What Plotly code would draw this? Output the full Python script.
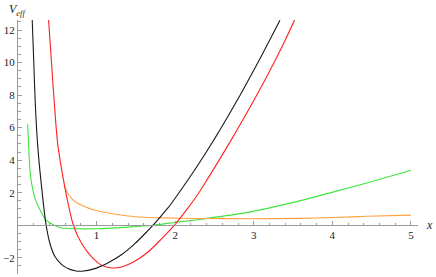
import plotly.graph_objects as go

# ---- data ----
black_x = [0.181, 0.199, 0.219, 0.249, 0.291, 0.358, 0.409, 0.472, 0.557, 0.642, 0.725, 0.81, 0.978, 1.148, 1.316, 1.484, 1.654, 1.719, 1.908, 1.949, 2.203, 2.329, 2.456, 2.582, 2.709, 2.835, 2.962, 3.089, 3.215, 3.333]
black_y = [12.62, 10.26, 7.59, 5.0, 2.77, 0.0, -1.17, -1.94, -2.42, -2.68, -2.80, -2.83, -2.67, -2.31, -1.82, -1.15, -0.33, 0.0, 1.06, 1.32, 3.07, 3.99, 4.96, 5.96, 7.0, 8.07, 9.19, 10.33, 11.49, 12.6]

red_x = [0.389, 0.443, 0.506, 0.591, 0.642, 0.705, 0.81, 0.937, 1.063, 1.19, 1.316, 1.485, 1.654, 1.823, 1.991, 2.161, 2.287, 2.413, 2.667, 2.92, 3.173, 3.383, 3.519]
red_y = [12.62, 8.82, 4.97, 2.46, 1.23, 0.0, -1.13, -1.95, -2.46, -2.63, -2.57, -2.22, -1.65, -0.86, 0.0, 1.05, 1.89, 2.85, 4.86, 6.97, 9.2, 11.2, 12.62]

green_x = [0.123, 0.156, 0.177, 0.219, 0.304, 0.346, 0.409, 0.535, 0.747, 0.978, 1.19, 1.401, 1.718, 1.991, 2.329, 2.962, 3.595, 4.016, 4.439, 5.0]
green_y = [6.2, 3.18, 2.46, 1.6, 0.72, 0.37, 0.14, -0.14, -0.22, -0.22, -0.18, -0.12, 0.0, 0.17, 0.37, 0.82, 1.51, 2.05, 2.6, 3.38]

orange_x = [0.589, 0.633, 0.684, 0.747, 0.81, 0.978, 1.19, 1.401, 1.611, 1.823, 2.329, 2.962, 3.595, 4.016, 4.439, 5.0]
orange_y = [2.43, 1.97, 1.64, 1.38, 1.23, 0.92, 0.72, 0.57, 0.49, 0.45, 0.41, 0.40, 0.42, 0.47, 0.55, 0.62]

x_ticks = [1, 2, 3, 4, 5]
x_tick_text = ["1", "2", "3", "4", "5"]
y_ticks = [-2, 2, 4, 6, 8, 10, 12]
y_tick_text = ["\u22122", "2", "4", "6", "8", "10", "12"]
x_minor = [round(0.2 * i, 2) for i in range(0, 26)]
y_minor = [round(-3 + 0.5 * i, 2) for i in range(0, 32)]

X_RANGE = [0, 5.09]
Y_RANGE = [-3.0, 12.615]

fig = go.Figure()
series = [
    (green_x, green_y, "#3ee63e"),
    (orange_x, orange_y, "#ffa040"),
    (red_x, red_y, "#ff2020"),
    (black_x, black_y, "#1a1a1a"),
]
for xs, ys, col in series:
    fig.add_trace(go.Scatter(x=xs, y=ys, mode="lines",
                             line=dict(color=col, width=1.1, shape="spline", smoothing=0.8),
                             showlegend=False, hoverinfo="skip"))

axis_col = "#9a9a9a"
serif = "Liberation Serif"
tick_font = dict(family=serif, size=11, color="#222")
zero_pos = (0 - Y_RANGE[0]) / (Y_RANGE[1] - Y_RANGE[0])

fig.update_layout(
    width=436, height=277,
    margin=dict(l=16, r=18, t=20, b=3),
    font=dict(family=serif, size=11, color="#222"),
    paper_bgcolor="white", plot_bgcolor="white",
    xaxis=dict(range=X_RANGE, anchor="free", position=zero_pos, side="bottom",
               showgrid=False, zeroline=False, showline=True, linecolor=axis_col, linewidth=1,
               tickmode="array", tickvals=x_ticks, ticktext=x_tick_text,
               ticks="inside", ticklen=4, tickcolor=axis_col, tickwidth=1,
               tickfont=tick_font,
               minor=dict(tickmode="array", tickvals=x_minor, ticks="inside", ticklen=2.5,
                          tickcolor=axis_col, tickwidth=1, showgrid=False)),
    yaxis=dict(range=Y_RANGE, anchor="x", side="left",
               showgrid=False, zeroline=False, showline=True, linecolor=axis_col, linewidth=1,
               tickmode="array", tickvals=y_ticks, ticktext=y_tick_text,
               ticks="inside", ticklen=4, tickcolor=axis_col, tickwidth=1,
               tickfont=tick_font,
               minor=dict(tickmode="array", tickvals=y_minor, ticks="inside", ticklen=2.5,
                          tickcolor=axis_col, tickwidth=1, showgrid=False)),
)

fig.add_annotation(xref="paper", yref="paper", x=-0.027, y=1.0, yanchor="bottom", xanchor="left",
                   text="<i>V</i><sub><i>eff</i></sub>", showarrow=False,
                   font=dict(family=serif, size=12, color="#222"))
fig.add_annotation(xref="paper", yref="paper", x=1.015, y=zero_pos, yanchor="middle", xanchor="left",
                   text="<i>x</i>", showarrow=False,
                   font=dict(family=serif, size=12, color="#222"))

fig.write_html("out.html", config={"displayModeBar": False},
               post_script="document.body.style.margin='0';")
